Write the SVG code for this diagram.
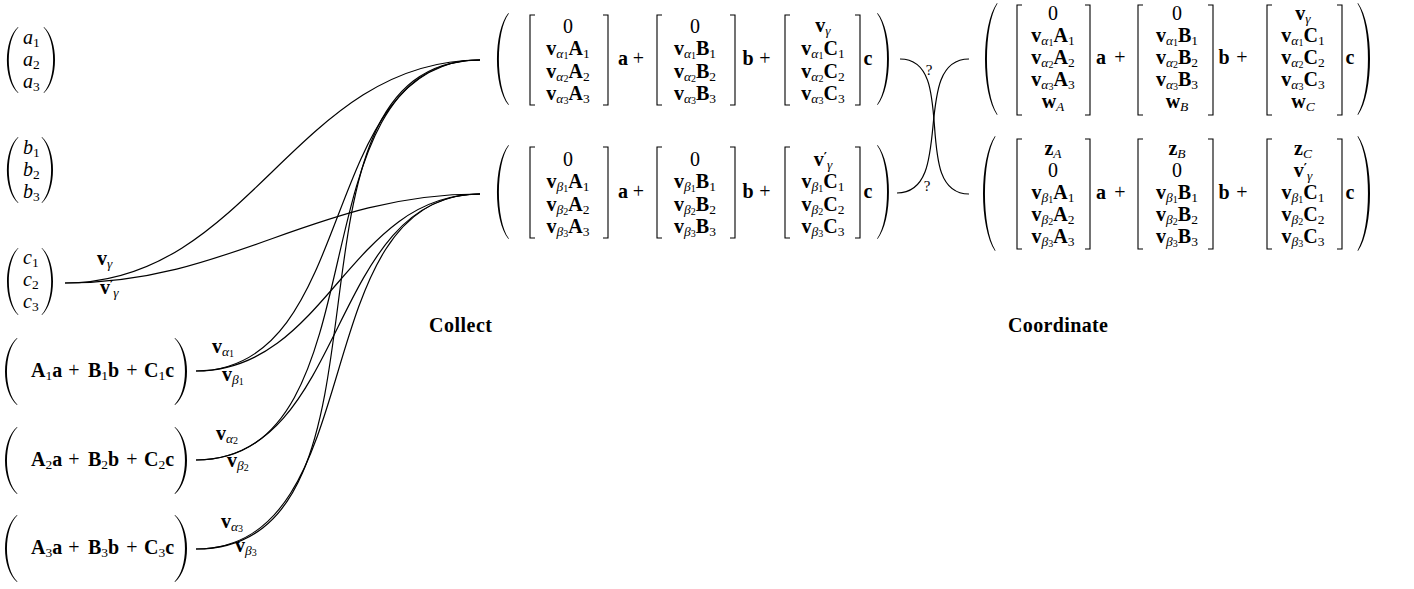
<svg xmlns="http://www.w3.org/2000/svg" width="1414" height="589" viewBox="0 0 1414 589" font-family="'Liberation Serif', 'DejaVu Serif', serif">
<style>
text { font-family: "Liberation Serif", "Times New Roman", "DejaVu Serif", serif; font-size: 20px; fill: #000; }
.b { font-weight: bold; }
.i { font-style: italic; }
.s { font-size: 13.5px; }
.ss { font-size: 10px; }
.pr { font-family: "DejaVu Sans", sans-serif; font-size: 12px; font-weight: bold; }
.mid { text-anchor: middle; }
.lbl { font-weight: bold; font-size: 20px; }
.q { font-size: 15px; }
.br { fill: none; stroke: #000; stroke-width: 1.1; }
.edge { fill: none; stroke: #000; stroke-width: 1.2; }
.par { fill: #000; }
</style>
<defs>
<path id="lp" d="M12,0 C-4,20 -4,80 12,100 L12.5,99.5 C-1.5,80 -1.5,20 12.5,0.5 Z"/>
</defs>
<rect width="1414" height="589" fill="#fff"/>

<g id="connectors">
<path class="edge" d="M65,283 C249.4,283 295.6,60 480,60"/>
<path class="edge" d="M65,283 C231.2,283 313.8,194 480,194"/>
<path class="edge" d="M196,371 C360.9,371 315.1,60 480,60"/>
<path class="edge" d="M196,371 C327,371 349,194 480,194"/>
<path class="edge" d="M196,460 C388.1,460 287.9,60 480,60"/>
<path class="edge" d="M196,460 C348.3,460 327.7,194 480,194"/>
<path class="edge" d="M196,549 C417.4,549 258.6,60 480,60"/>
<path class="edge" d="M196,549 C374,549 302,194 480,194"/>
<path class="edge" d="M900,59 C959.4,59 909.6,194 969,194"/>
<path class="edge" d="M897,193 C956.5,193 909.5,59 969,59"/>
<text x="97" y="265"><tspan class="b">v</tspan><tspan class="s i" dy="3">γ</tspan></text>
<text x="100" y="294"><tspan class="b">v</tspan><tspan class="pr" dy="-5">′</tspan><tspan class="s i" dy="8">γ</tspan></text>
<text x="212" y="353"><tspan class="b">v</tspan><tspan class="s i" dy="3">α</tspan><tspan class="ss" dy="1">1</tspan></text>
<text x="222" y="381"><tspan class="b">v</tspan><tspan class="s i" dy="3">β</tspan><tspan class="ss" dy="1">1</tspan></text>
<text x="216" y="440"><tspan class="b">v</tspan><tspan class="s i" dy="3">α</tspan><tspan class="ss" dy="1">2</tspan></text>
<text x="227" y="467"><tspan class="b">v</tspan><tspan class="s i" dy="3">β</tspan><tspan class="ss" dy="1">2</tspan></text>
<text x="221" y="528"><tspan class="b">v</tspan><tspan class="s i" dy="3">α</tspan><tspan class="ss" dy="1">3</tspan></text>
<text x="235" y="552"><tspan class="b">v</tspan><tspan class="s i" dy="3">β</tspan><tspan class="ss" dy="1">3</tspan></text>
<text class="q" x="929" y="75" text-anchor="middle">?</text>
<text class="q" x="927" y="191" text-anchor="middle">?</text>
</g>

<g id="vec-a">
<use href="#lp" class="par" transform="translate(7,27) scale(0.917,0.66)"/>
<use href="#lp" class="par" transform="translate(55,27) scale(-0.917,0.66)"/>
<text x="23" y="44"><tspan class="i">a</tspan><tspan class="s" dy="3">1</tspan></text>
<text x="23" y="66"><tspan class="i">a</tspan><tspan class="s" dy="3">2</tspan></text>
<text x="23" y="88"><tspan class="i">a</tspan><tspan class="s" dy="3">3</tspan></text>
</g>

<g id="vec-b">
<use href="#lp" class="par" transform="translate(7,137) scale(0.917,0.66)"/>
<use href="#lp" class="par" transform="translate(53,137) scale(-0.917,0.66)"/>
<text x="23" y="154"><tspan class="i">b</tspan><tspan class="s" dy="3">1</tspan></text>
<text x="23" y="176"><tspan class="i">b</tspan><tspan class="s" dy="3">2</tspan></text>
<text x="23" y="198"><tspan class="i">b</tspan><tspan class="s" dy="3">3</tspan></text>
</g>

<g id="vec-c">
<use href="#lp" class="par" transform="translate(7,248) scale(0.917,0.67)"/>
<use href="#lp" class="par" transform="translate(53,248) scale(-0.917,0.67)"/>
<text x="23" y="264"><tspan class="i">c</tspan><tspan class="s" dy="3">1</tspan></text>
<text x="23" y="286"><tspan class="i">c</tspan><tspan class="s" dy="3">2</tspan></text>
<text x="23" y="308"><tspan class="i">c</tspan><tspan class="s" dy="3">3</tspan></text>
</g>

<g id="eq-1">
<use href="#lp" class="par" transform="translate(5,338) scale(1,0.67)"/>
<use href="#lp" class="par" transform="translate(187,338) scale(-1,0.67)"/>
<text x="31" y="377"><tspan class="b">A</tspan><tspan class="s" dy="3">1</tspan><tspan class="b" dy="-3">a</tspan></text>
<text class="mid" x="74" y="377">+</text>
<text x="88" y="377"><tspan class="b">B</tspan><tspan class="s" dy="3">1</tspan><tspan class="b" dy="-3">b</tspan></text>
<text class="mid" x="132" y="377">+</text>
<text x="144" y="377"><tspan class="b">C</tspan><tspan class="s" dy="3">1</tspan><tspan class="b" dy="-3">c</tspan></text>
</g>

<g id="eq-2">
<use href="#lp" class="par" transform="translate(5,427) scale(1,0.67)"/>
<use href="#lp" class="par" transform="translate(187,427) scale(-1,0.67)"/>
<text x="31" y="466"><tspan class="b">A</tspan><tspan class="s" dy="3">2</tspan><tspan class="b" dy="-3">a</tspan></text>
<text class="mid" x="74" y="466">+</text>
<text x="88" y="466"><tspan class="b">B</tspan><tspan class="s" dy="3">2</tspan><tspan class="b" dy="-3">b</tspan></text>
<text class="mid" x="132" y="466">+</text>
<text x="144" y="466"><tspan class="b">C</tspan><tspan class="s" dy="3">2</tspan><tspan class="b" dy="-3">c</tspan></text>
</g>

<g id="eq-3">
<use href="#lp" class="par" transform="translate(5,515) scale(1,0.67)"/>
<use href="#lp" class="par" transform="translate(187,515) scale(-1,0.67)"/>
<text x="31" y="554"><tspan class="b">A</tspan><tspan class="s" dy="3">3</tspan><tspan class="b" dy="-3">a</tspan></text>
<text class="mid" x="74" y="554">+</text>
<text x="88" y="554"><tspan class="b">B</tspan><tspan class="s" dy="3">3</tspan><tspan class="b" dy="-3">b</tspan></text>
<text class="mid" x="132" y="554">+</text>
<text x="144" y="554"><tspan class="b">C</tspan><tspan class="s" dy="3">3</tspan><tspan class="b" dy="-3">c</tspan></text>
</g>

<g id="collect-alpha">
<use href="#lp" class="par" transform="translate(497,13) scale(0.95,0.92)"/>
<use href="#lp" class="par" transform="translate(889,13) scale(-0.95,0.92)"/>
<path class="br" d="M535,15 H530 V105 H535 M603,15 H608 V105 H603 M662,15 H657 V105 H662 M730,15 H735 V105 H730 M790,15 H785 V105 H790 M855,15 H860 V105 H855"/>
<text class="mid" x="568" y="33">0</text>
<text class="mid" x="568" y="55"><tspan class="b">v</tspan><tspan class="s i" dy="3">α</tspan><tspan class="ss" dy="1">1</tspan><tspan class="b" dy="-4">A</tspan><tspan class="s" dy="3">1</tspan></text>
<text class="mid" x="568" y="78"><tspan class="b">v</tspan><tspan class="s i" dy="3">α</tspan><tspan class="ss" dy="1">2</tspan><tspan class="b" dy="-4">A</tspan><tspan class="s" dy="3">2</tspan></text>
<text class="mid" x="568" y="100"><tspan class="b">v</tspan><tspan class="s i" dy="3">α</tspan><tspan class="ss" dy="1">3</tspan><tspan class="b" dy="-4">A</tspan><tspan class="s" dy="3">3</tspan></text>
<text class="mid b" x="623" y="65">a</text>
<text class="mid" x="638.5" y="65">+</text>
<text class="mid" x="695" y="33">0</text>
<text class="mid" x="695" y="55"><tspan class="b">v</tspan><tspan class="s i" dy="3">α</tspan><tspan class="ss" dy="1">1</tspan><tspan class="b" dy="-4">B</tspan><tspan class="s" dy="3">1</tspan></text>
<text class="mid" x="695" y="78"><tspan class="b">v</tspan><tspan class="s i" dy="3">α</tspan><tspan class="ss" dy="1">2</tspan><tspan class="b" dy="-4">B</tspan><tspan class="s" dy="3">2</tspan></text>
<text class="mid" x="695" y="100"><tspan class="b">v</tspan><tspan class="s i" dy="3">α</tspan><tspan class="ss" dy="1">3</tspan><tspan class="b" dy="-4">B</tspan><tspan class="s" dy="3">3</tspan></text>
<text class="mid b" x="748" y="65">b</text>
<text class="mid" x="765" y="65">+</text>
<text class="mid" x="823" y="32"><tspan class="b">v</tspan><tspan class="s i" dy="3">γ</tspan></text>
<text class="mid" x="823" y="55"><tspan class="b">v</tspan><tspan class="s i" dy="3">α</tspan><tspan class="ss" dy="1">1</tspan><tspan class="b" dy="-4">C</tspan><tspan class="s" dy="3">1</tspan></text>
<text class="mid" x="823" y="78"><tspan class="b">v</tspan><tspan class="s i" dy="3">α</tspan><tspan class="ss" dy="1">2</tspan><tspan class="b" dy="-4">C</tspan><tspan class="s" dy="3">2</tspan></text>
<text class="mid" x="823" y="100"><tspan class="b">v</tspan><tspan class="s i" dy="3">α</tspan><tspan class="ss" dy="1">3</tspan><tspan class="b" dy="-4">C</tspan><tspan class="s" dy="3">3</tspan></text>
<text class="mid b" x="868" y="65">c</text>
</g>

<g id="collect-beta">
<use href="#lp" class="par" transform="translate(497,145) scale(0.95,0.94)"/>
<use href="#lp" class="par" transform="translate(889,145) scale(-0.95,0.94)"/>
<path class="br" d="M535,147 H530 V238 H535 M603,147 H608 V238 H603 M662,147 H657 V238 H662 M730,147 H735 V238 H730 M790,147 H785 V238 H790 M855,147 H860 V238 H855"/>
<text class="mid" x="568" y="166">0</text>
<text class="mid" x="568" y="188"><tspan class="b">v</tspan><tspan class="s i" dy="3">β</tspan><tspan class="ss" dy="1">1</tspan><tspan class="b" dy="-4">A</tspan><tspan class="s" dy="3">1</tspan></text>
<text class="mid" x="568" y="211"><tspan class="b">v</tspan><tspan class="s i" dy="3">β</tspan><tspan class="ss" dy="1">2</tspan><tspan class="b" dy="-4">A</tspan><tspan class="s" dy="3">2</tspan></text>
<text class="mid" x="568" y="233"><tspan class="b">v</tspan><tspan class="s i" dy="3">β</tspan><tspan class="ss" dy="1">3</tspan><tspan class="b" dy="-4">A</tspan><tspan class="s" dy="3">3</tspan></text>
<text class="mid b" x="623" y="198">a</text>
<text class="mid" x="638.5" y="198">+</text>
<text class="mid" x="695" y="166">0</text>
<text class="mid" x="695" y="188"><tspan class="b">v</tspan><tspan class="s i" dy="3">β</tspan><tspan class="ss" dy="1">1</tspan><tspan class="b" dy="-4">B</tspan><tspan class="s" dy="3">1</tspan></text>
<text class="mid" x="695" y="211"><tspan class="b">v</tspan><tspan class="s i" dy="3">β</tspan><tspan class="ss" dy="1">2</tspan><tspan class="b" dy="-4">B</tspan><tspan class="s" dy="3">2</tspan></text>
<text class="mid" x="695" y="233"><tspan class="b">v</tspan><tspan class="s i" dy="3">β</tspan><tspan class="ss" dy="1">3</tspan><tspan class="b" dy="-4">B</tspan><tspan class="s" dy="3">3</tspan></text>
<text class="mid b" x="748" y="198">b</text>
<text class="mid" x="765" y="198">+</text>
<text class="mid" x="823" y="166"><tspan class="b">v</tspan><tspan class="pr" dy="-5">′</tspan><tspan class="s i" dy="8">γ</tspan></text>
<text class="mid" x="823" y="188"><tspan class="b">v</tspan><tspan class="s i" dy="3">β</tspan><tspan class="ss" dy="1">1</tspan><tspan class="b" dy="-4">C</tspan><tspan class="s" dy="3">1</tspan></text>
<text class="mid" x="823" y="211"><tspan class="b">v</tspan><tspan class="s i" dy="3">β</tspan><tspan class="ss" dy="1">2</tspan><tspan class="b" dy="-4">C</tspan><tspan class="s" dy="3">2</tspan></text>
<text class="mid" x="823" y="233"><tspan class="b">v</tspan><tspan class="s i" dy="3">β</tspan><tspan class="ss" dy="1">3</tspan><tspan class="b" dy="-4">C</tspan><tspan class="s" dy="3">3</tspan></text>
<text class="mid b" x="868" y="198">c</text>
</g>

<g id="coordinate-alpha">
<use href="#lp" class="par" transform="translate(985,3) scale(1,1.12)"/>
<use href="#lp" class="par" transform="translate(1370,3) scale(-1,1.12)"/>
<path class="br" d="M1022,5 H1017 V115 H1022 M1085,5 H1090 V115 H1085 M1143,5 H1138 V115 H1143 M1208,5 H1213 V115 H1208 M1272,5 H1267 V115 H1272 M1337,5 H1342 V115 H1337"/>
<text class="mid" x="1053" y="20">0</text>
<text class="mid" x="1053" y="42"><tspan class="b">v</tspan><tspan class="s i" dy="3">α</tspan><tspan class="ss" dy="1">1</tspan><tspan class="b" dy="-4">A</tspan><tspan class="s" dy="3">1</tspan></text>
<text class="mid" x="1053" y="64"><tspan class="b">v</tspan><tspan class="s i" dy="3">α</tspan><tspan class="ss" dy="1">2</tspan><tspan class="b" dy="-4">A</tspan><tspan class="s" dy="3">2</tspan></text>
<text class="mid" x="1053" y="86"><tspan class="b">v</tspan><tspan class="s i" dy="3">α</tspan><tspan class="ss" dy="1">3</tspan><tspan class="b" dy="-4">A</tspan><tspan class="s" dy="3">3</tspan></text>
<text class="mid" x="1053" y="108"><tspan class="b">w</tspan><tspan class="s i" dy="3">A</tspan></text>
<text class="mid b" x="1101" y="64">a</text>
<text class="mid" x="1120" y="64">+</text>
<text class="mid" x="1177" y="20">0</text>
<text class="mid" x="1177" y="42"><tspan class="b">v</tspan><tspan class="s i" dy="3">α</tspan><tspan class="ss" dy="1">1</tspan><tspan class="b" dy="-4">B</tspan><tspan class="s" dy="3">1</tspan></text>
<text class="mid" x="1177" y="64"><tspan class="b">v</tspan><tspan class="s i" dy="3">α</tspan><tspan class="ss" dy="1">2</tspan><tspan class="b" dy="-4">B</tspan><tspan class="s" dy="3">2</tspan></text>
<text class="mid" x="1177" y="86"><tspan class="b">v</tspan><tspan class="s i" dy="3">α</tspan><tspan class="ss" dy="1">3</tspan><tspan class="b" dy="-4">B</tspan><tspan class="s" dy="3">3</tspan></text>
<text class="mid" x="1177" y="108"><tspan class="b">w</tspan><tspan class="s i" dy="3">B</tspan></text>
<text class="mid b" x="1224" y="64">b</text>
<text class="mid" x="1242" y="64">+</text>
<text class="mid" x="1303" y="20"><tspan class="b">v</tspan><tspan class="s i" dy="3">γ</tspan></text>
<text class="mid" x="1303" y="42"><tspan class="b">v</tspan><tspan class="s i" dy="3">α</tspan><tspan class="ss" dy="1">1</tspan><tspan class="b" dy="-4">C</tspan><tspan class="s" dy="3">1</tspan></text>
<text class="mid" x="1303" y="64"><tspan class="b">v</tspan><tspan class="s i" dy="3">α</tspan><tspan class="ss" dy="1">2</tspan><tspan class="b" dy="-4">C</tspan><tspan class="s" dy="3">2</tspan></text>
<text class="mid" x="1303" y="86"><tspan class="b">v</tspan><tspan class="s i" dy="3">α</tspan><tspan class="ss" dy="1">3</tspan><tspan class="b" dy="-4">C</tspan><tspan class="s" dy="3">3</tspan></text>
<text class="mid" x="1303" y="108"><tspan class="b">w</tspan><tspan class="s i" dy="3">C</tspan></text>
<text class="mid b" x="1350" y="64">c</text>
</g>

<g id="coordinate-beta">
<use href="#lp" class="par" transform="translate(983,136) scale(1,1.15)"/>
<use href="#lp" class="par" transform="translate(1370,136) scale(-1,1.15)"/>
<path class="br" d="M1022,139 H1017 V249 H1022 M1085,139 H1090 V249 H1085 M1143,139 H1138 V249 H1143 M1208,139 H1213 V249 H1208 M1272,139 H1267 V249 H1272 M1337,139 H1342 V249 H1337"/>
<text class="mid" x="1053" y="155"><tspan class="b">z</tspan><tspan class="s i" dy="3">A</tspan></text>
<text class="mid" x="1053" y="177">0</text>
<text class="mid" x="1053" y="199"><tspan class="b">v</tspan><tspan class="s i" dy="3">β</tspan><tspan class="ss" dy="1">1</tspan><tspan class="b" dy="-4">A</tspan><tspan class="s" dy="3">1</tspan></text>
<text class="mid" x="1053" y="221"><tspan class="b">v</tspan><tspan class="s i" dy="3">β</tspan><tspan class="ss" dy="1">2</tspan><tspan class="b" dy="-4">A</tspan><tspan class="s" dy="3">2</tspan></text>
<text class="mid" x="1053" y="243"><tspan class="b">v</tspan><tspan class="s i" dy="3">β</tspan><tspan class="ss" dy="1">3</tspan><tspan class="b" dy="-4">A</tspan><tspan class="s" dy="3">3</tspan></text>
<text class="mid b" x="1101" y="199">a</text>
<text class="mid" x="1120" y="199">+</text>
<text class="mid" x="1177" y="155"><tspan class="b">z</tspan><tspan class="s i" dy="3">B</tspan></text>
<text class="mid" x="1177" y="177">0</text>
<text class="mid" x="1177" y="199"><tspan class="b">v</tspan><tspan class="s i" dy="3">β</tspan><tspan class="ss" dy="1">1</tspan><tspan class="b" dy="-4">B</tspan><tspan class="s" dy="3">1</tspan></text>
<text class="mid" x="1177" y="221"><tspan class="b">v</tspan><tspan class="s i" dy="3">β</tspan><tspan class="ss" dy="1">2</tspan><tspan class="b" dy="-4">B</tspan><tspan class="s" dy="3">2</tspan></text>
<text class="mid" x="1177" y="243"><tspan class="b">v</tspan><tspan class="s i" dy="3">β</tspan><tspan class="ss" dy="1">3</tspan><tspan class="b" dy="-4">B</tspan><tspan class="s" dy="3">3</tspan></text>
<text class="mid b" x="1224" y="199">b</text>
<text class="mid" x="1242" y="199">+</text>
<text class="mid" x="1303" y="155"><tspan class="b">z</tspan><tspan class="s i" dy="3">C</tspan></text>
<text class="mid" x="1303" y="177"><tspan class="b">v</tspan><tspan class="pr" dy="-5">′</tspan><tspan class="s i" dy="8">γ</tspan></text>
<text class="mid" x="1303" y="199"><tspan class="b">v</tspan><tspan class="s i" dy="3">β</tspan><tspan class="ss" dy="1">1</tspan><tspan class="b" dy="-4">C</tspan><tspan class="s" dy="3">1</tspan></text>
<text class="mid" x="1303" y="221"><tspan class="b">v</tspan><tspan class="s i" dy="3">β</tspan><tspan class="ss" dy="1">2</tspan><tspan class="b" dy="-4">C</tspan><tspan class="s" dy="3">2</tspan></text>
<text class="mid" x="1303" y="243"><tspan class="b">v</tspan><tspan class="s i" dy="3">β</tspan><tspan class="ss" dy="1">3</tspan><tspan class="b" dy="-4">C</tspan><tspan class="s" dy="3">3</tspan></text>
<text class="mid b" x="1350" y="199">c</text>
</g>

<g id="label-collect">
<text class="lbl" x="429" y="332" textLength="63" lengthAdjust="spacing">Collect</text>
</g>
<g id="label-coordinate">
<text class="lbl" x="1008" y="332" textLength="100" lengthAdjust="spacing">Coordinate</text>
</g>
</svg>
